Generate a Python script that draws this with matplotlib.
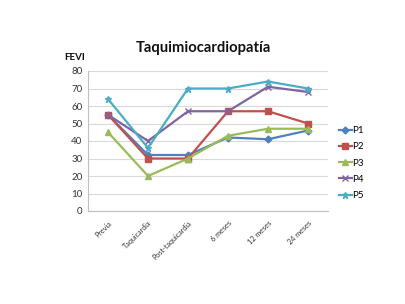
import matplotlib
matplotlib.use("Agg")
import matplotlib.pyplot as plt

categories = ["Previa", "Taquicardia", "Post-taquicardia", "6 meses", "12 meses", "24 meses"]
series_names = ["P1", "P2", "P3", "P4", "P5"]
p1 = [55, 32, 32, 42, 41, 46]
p2 = [55, 30, 30, 57, 57, 50]
p3 = [45, 20, 30, 43, 47, 47]
p4 = [55, 40, 57, 57, 71, 68]
p5 = [64, 36, 70, 70, 74, 70]
series_values = [p1, p2, p3, p4, p5]
yticks = [0, 10, 20, 30, 40, 50, 60, 70, 80]

colors = ["#4F81BD", "#C0504D", "#9BBB59", "#8064A2", "#4BACC6"]
markers = ["D", "s", "^", "x", "*"]
msizes = [3.5, 4.5, 4.5, 4.5, 5]

plt.rcParams['font.family'] = ['Lato', 'DejaVu Sans']

fig = plt.figure(figsize=(4.05, 3.04), dpi=100)
ax = fig.add_axes([88/405, 1-211/304, 240/405, 140/304])

x = list(range(len(categories)))
for name, vals, c, m, ms in zip(series_names, series_values, colors, markers, msizes):
    ax.plot(x, vals, color=c, lw=1.6, marker=m, markersize=ms, label=name,
            markeredgecolor=c, markerfacecolor=c, markeredgewidth=1.0)

ax.set_xlim(-0.5, len(categories) - 0.5)
ax.set_ylim(0, 80)
ax.set_yticks(yticks)
ax.set_yticklabels([str(t) for t in yticks], fontsize=7, color="#333333")
ax.set_xticks(x)
ax.set_xticklabels(categories, rotation=45, ha="right", rotation_mode="anchor",
                   fontsize=5.2, color="#333333")
ax.tick_params(axis="both", length=0, pad=4)
ax.tick_params(axis="x", pad=6)
ax.grid(axis="y", color="#D9D9D9", lw=0.8)
ax.set_axisbelow(True)
for s in ["top", "right"]:
    ax.spines[s].set_visible(False)
ax.spines["left"].set_color("#BFBFBF")
ax.spines["bottom"].set_color("#BFBFBF")

fig.text(203/405, 1-48/304, "Taquimiocardiopatía", ha="center", va="center",
         fontsize=10.6, fontweight="bold", color="#111111")
fig.text(75/405, 1-58/304, "FEVI", ha="center", va="center",
         fontsize=7, fontweight="bold", color="#111111")

fig.legend(loc="center left", bbox_to_anchor=(334/405, 1-163/304), frameon=False,
           fontsize=7, handlelength=1.3, handletextpad=0.1, labelspacing=0.75,
           borderpad=0)

fig.savefig("out.png", dpi=100)
